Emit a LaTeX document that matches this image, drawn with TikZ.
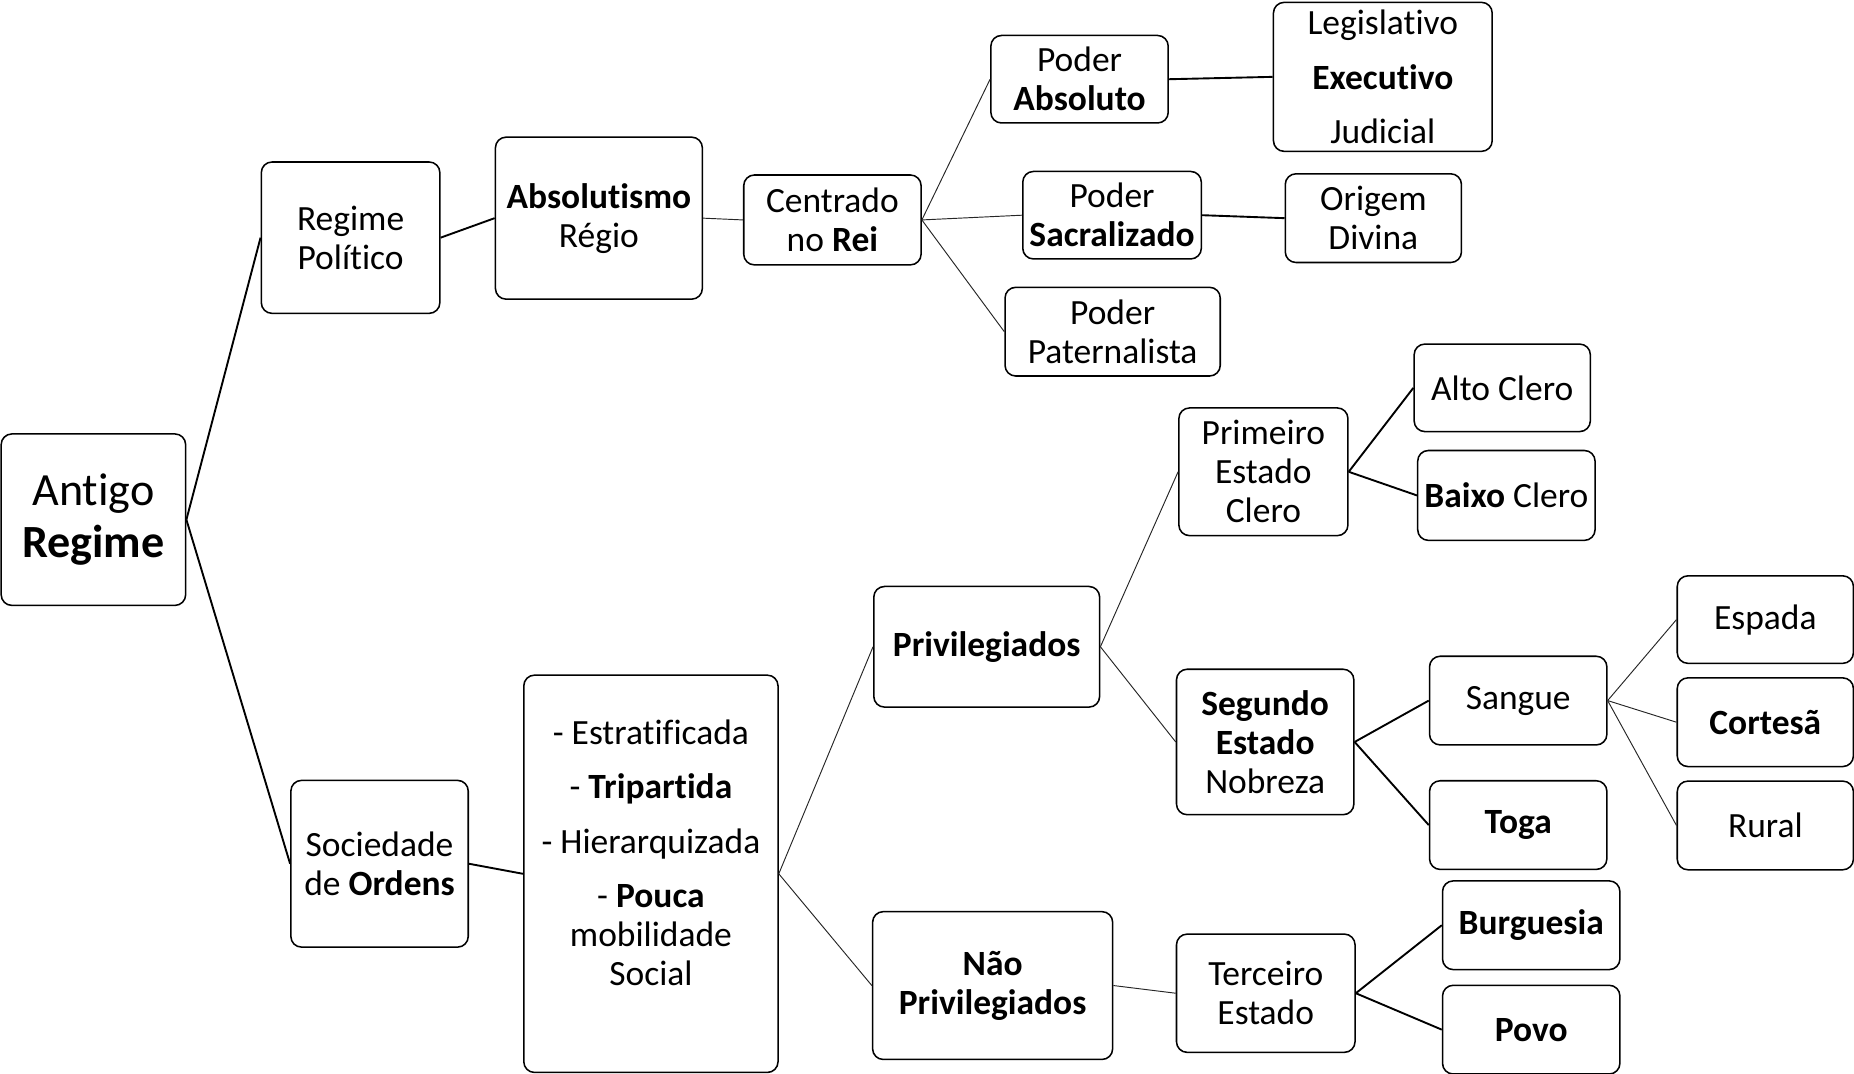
\documentclass[tikz,border=0pt]{standalone}
\usepackage{fontspec}
\setmainfont[RawFeature={-liga;-clig;-calt;-dlig}]{Carlito}
\usetikzlibrary{positioning}
\tikzset{
  caixa/.style={rectangle, rounded corners=9pt, draw=black, line width=1.3pt,
    fill=white, align=center, inner sep=0pt, minimum width=150pt,
    minimum height=75pt, font=\fontsize{30}{33}\selectfont},
  raiz/.style={caixa, font=\fontsize{39}{44}\selectfont},
  liga/.style={draw=black!85, line width=0.8pt},
  ligaforte/.style={draw=black, line width=1.6pt}
}
\begin{document}
\begin{tikzpicture}[x=1pt, y=-1pt]
\useasboundingbox (0,0) rectangle (1568,908);
% raiz
\node (antigo) [raiz, minimum width=156pt, minimum height=145pt] at (79,439.5) {Antigo\\\textbf{Regime}};
% regime politico
\node (regpol)   [caixa, minimum width=151pt, minimum height=128pt] at (296.5,201) {Regime\\Político};
\node (absol)    [caixa, minimum width=175pt, minimum height=137pt] at (506.5,184.5) {\textbf{Absolutismo}\\Régio};
\node (centrado) [caixa, minimum height=76pt] at (704,186) {Centrado\\no \textbf{Rei}};
\node (pabs)     [caixa, minimum height=74pt] at (913,67) {Poder\\\textbf{Absoluto}};
\node (poderes)  [caixa, minimum width=185pt, minimum height=126pt] at (1169.5,65) {Legislativo\\[13pt]\textbf{Executivo}\\[13pt]Judicial};
\node (psacr)    [caixa, minimum width=151pt, minimum height=74pt] at (940.5,182) {Poder\\\textbf{Sacralizado}};
\node (origem)   [caixa, minimum width=149pt] at (1161.5,184.5) {Origem\\Divina};
\node (ppat)     [caixa, minimum width=182pt] at (941,280.5) {Poder\\Paternalista};
% sociedade de ordens
\node (sociedade) [caixa, minimum height=141pt] at (321,730.5) {Sociedade\\de \textbf{Ordens}};
\node (lista)     [caixa, minimum width=215pt, minimum height=336pt] at (550.5,739)
  {- Estratificada\\[13pt]- \textbf{Tripartida}\\[13pt]- Hierarquizada\\[13pt]- \textbf{Pouca}\\mobilidade\\Social\\[3pt]\mbox{}};
\node (privil)    [caixa, minimum width=191pt, minimum height=102pt] at (834.5,547) {\textbf{Privilegiados}};
\node (naopriv)   [caixa, minimum width=203pt, minimum height=125pt] at (839.5,833.5) {\textbf{Não}\\\textbf{Privilegiados}};
\node (primeiro)  [caixa, minimum width=143pt, minimum height=108pt] at (1068.5,399) {Primeiro\\Estado\\Clero};
\node (alto)      [caixa, minimum width=149pt, minimum height=74pt] at (1270.5,328) {Alto Clero};
\node (baixo)     [caixa, minimum height=76pt] at (1274,419) {\textbf{Baixo} Clero};
\node (segundo)   [caixa, minimum height=123pt] at (1070,627.5) {\textbf{Segundo}\\\textbf{Estado}\\Nobreza};
\node (sangue)    [caixa] at (1284,592.5) {Sangue};
\node (toga)      [caixa, below=29pt of sangue] {\textbf{Toga}};
\node (espada)    [caixa, minimum width=149pt, minimum height=74pt] at (1493,524) {Espada};
\node (cortesa)   [caixa, minimum width=149pt, below=11pt of espada] {\textbf{Cortesã}};
\node (rural)     [caixa, minimum width=149pt, below=11pt of cortesa] {Rural};
\node (terceiro)  [caixa, minimum width=151pt, minimum height=100pt] at (1070.5,840) {Terceiro\\Estado};
\node (burguesia) [caixa] at (1295,782.5) {\textbf{Burguesia}};
\node (povo)      [caixa, below=12pt of burguesia] {\textbf{Povo}};

\draw[ligaforte] (antigo.east) -- (regpol.west);
\draw[ligaforte] (antigo.east) -- (sociedade.west);
\draw[ligaforte] (regpol.east) -- (absol.west);
\draw[liga] (absol.east) -- (centrado.west);
\draw[liga] (centrado.east) -- (pabs.west);
\draw[liga] (centrado.east) -- (psacr.west);
\draw[liga] (centrado.east) -- (ppat.west);
\draw[ligaforte] (pabs.east) -- (poderes.west);
\draw[ligaforte] (psacr.east) -- (origem.west);
\draw[ligaforte] (sociedade.east) -- (lista.west);
\draw[liga] (lista.east) -- (privil.west);
\draw[liga] (lista.east) -- (naopriv.west);
\draw[liga] (privil.east) -- (primeiro.west);
\draw[liga] (privil.east) -- (segundo.west);
\draw[ligaforte] (primeiro.east) -- (alto.west);
\draw[ligaforte] (primeiro.east) -- (baixo.west);
\draw[ligaforte] (segundo.east) -- (sangue.west);
\draw[ligaforte] (segundo.east) -- (toga.west);
\draw[liga] (sangue.east) -- (espada.west);
\draw[liga] (sangue.east) -- (cortesa.west);
\draw[liga] (sangue.east) -- (rural.west);
\draw[liga] (naopriv.east) -- (terceiro.west);
\draw[ligaforte] (terceiro.east) -- (burguesia.west);
\draw[ligaforte] (terceiro.east) -- (povo.west);
\end{tikzpicture}
\end{document}
